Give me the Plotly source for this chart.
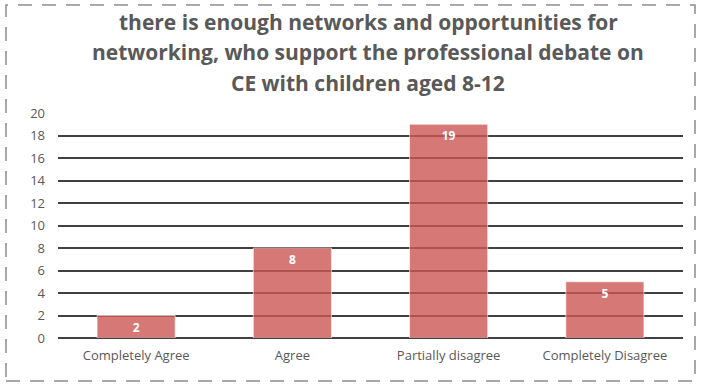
import plotly.graph_objects as go

categories = ["Completely Agree", "Agree", "Partially disagree", "Completely Disagree"]
counts = [2, 8, 19, 5]
y_ticks = list(range(0, 21, 2))

title_lines = [
    "there is enough networks and opportunities for",
    "networking, who support the professional debate on",
    "CE with children aged 8-12",
]

fig = go.Figure()
fig.add_trace(go.Bar(
    x=categories,
    y=counts,
    text=[str(v) for v in counts],
    textposition="inside",
    insidetextanchor="end",
    textangle=0,
    constraintext="none",
    textfont=dict(family="Open Sans", size=12, color="white", weight="bold"),
    marker=dict(color="rgba(204,88,84,0.8)",
                line=dict(color="rgba(255,255,255,0.6)", width=1)),
    cliponaxis=False,
))

# dashed frame around the whole chart
fig.add_shape(type="rect", xref="paper", yref="paper",
              x0=-0.0832, x1=1.0192, y0=-0.191, y1=1.48,
              line=dict(color="#8c8c8c", width=1.5, dash="14px,10px"),
              layer="below")

# three-line bold title, one annotation per line
plot_h = 225
for line, ypix in zip(title_lines, [22, 52, 83]):
    fig.add_annotation(
        text=line, xref="paper", yref="paper",
        x=(368 - 58) / 625, y=(338 - ypix) / plot_h,
        xanchor="center", yanchor="middle", showarrow=False,
        font=dict(family="Open Sans", size=21, color="#595959", weight="bold"),
    )

fig.update_layout(
    width=701, height=387,
    margin=dict(l=58, r=18, t=113, b=49),
    paper_bgcolor="white", plot_bgcolor="white",
    bargap=0.5,
    showlegend=False,
    xaxis=dict(showgrid=False, showline=False, ticks="", ticklabelstandoff=8,
               tickfont=dict(family="Open Sans", size=13, color="#595959")),
    yaxis=dict(range=[0, 20], tickvals=y_ticks, showgrid=True,
               gridcolor="#404040", gridwidth=1.5,
               zeroline=True, zerolinecolor="#404040", zerolinewidth=1.5,
               ticks="", ticklabelstandoff=12,
               tickfont=dict(family="Open Sans", size=13, color="#595959")),
)

fig.write_html("out.html")
